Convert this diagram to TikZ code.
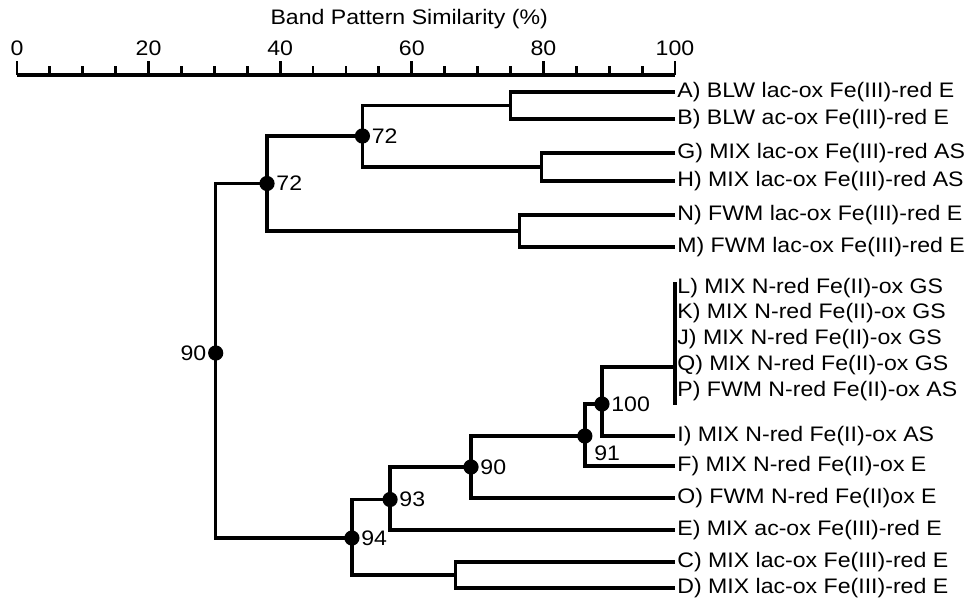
\documentclass[tikz,border=0pt]{standalone}
\usepackage{fontspec}
\setmainfont{Liberation Sans}[FakeStretch=1.1]

\tikzset{
    tree/.style={line width=1.7pt},
    leaf/.style={anchor=west, inner sep=1pt},
    boot/.style={inner sep=4.5pt}
}

\begin{document}
\begin{tikzpicture}[x=3.29pt, y=-0.5pt, font=\fontsize{10.5}{12}\selectfont]
    \useasboundingbox (-2.58, 0) rectangle (144.68, 598);
    % similarity axis
    \node (title) at (59.6, 19) {Band Pattern Similarity (\%)};
    \draw[line width=1.7pt]
        (0, 75) -- (100, 75);
    \draw[line width=1.4pt]
        \foreach \t in {0, 5, ..., 100} {
            (\t, 75) -- (\t, 66)
        }
        \foreach \t in {0, 20, ..., 100} {
            (\t, 75) -- (\t, 61)
        };
    \path
        \foreach \t in {0, 20, ..., 100} {
            (\t, 48) node (t\t) {\t}
        };
    % leaves
    \path
        \foreach \n/\y/\txt in {
            A/92/{A) BLW lac-ox Fe(III)-red E},
            B/119/{B) BLW ac-ox Fe(III)-red E},
            G/153/{G) MIX lac-ox Fe(III)-red AS},
            H/181/{H) MIX lac-ox Fe(III)-red AS},
            N/215/{N) FWM lac-ox Fe(III)-red E},
            M/247/{M) FWM lac-ox Fe(III)-red E},
            L/288/{L) MIX N-red Fe(II)-ox GS},
            K/313/{K) MIX N-red Fe(II)-ox GS},
            J/339/{J) MIX N-red Fe(II)-ox GS},
            Q/365/{Q) MIX N-red Fe(II)-ox GS},
            P/391/{P) FWM N-red Fe(II)-ox AS},
            I/436/{I) MIX N-red Fe(II)-ox AS},
            F/466/{F) MIX N-red Fe(II)-ox E},
            O/498/{O) FWM N-red Fe(II)ox E},
            E/530/{E) MIX ac-ox Fe(III)-red E},
            C/562/{C) MIX lac-ox Fe(III)-red E},
            D/588/{D) MIX lac-ox Fe(III)-red E}
        } {
            (100, \y) coordinate (\n) node[leaf] (l\n) {\txt}
        };
    % junctions
    \coordinate (ab) at (75.0, 105.5);
    \coordinate (gh) at (79.7, 167);
    \coordinate (nm) at (76.4, 231);
    \coordinate (k72a) at (52.5, 136);
    \coordinate (k72b) at (38.0, 183.5);
    \coordinate (lptop) at (100, 282);
    \coordinate (lpbot) at (100, 405);
    \coordinate (lp) at (100, 367);
    \coordinate (k100) at (88.9, 404);
    \coordinate (k91) at (86.3, 436);
    \coordinate (k90) at (69.0, 467);
    \coordinate (k93) at (56.7, 499.5);
    \coordinate (cd) at (66.6, 575);
    \coordinate (k94) at (50.9, 538);
    \coordinate (root) at (30.2, 353);
    \draw[tree]
        (A) -| (ab) |- (B)
        (G) -| (gh) |- (H)
        (ab) -| (k72a) |- (gh)
        (N) -| (nm) |- (M)
        (k72a) -| (k72b) |- (nm)
        (lptop) -- (lpbot)
        (lp) -| (k100) |- (I)
        (k100) -| (k91) |- (F)
        (k91) -| (k90) |- (O)
        (k90) -| (k93) |- (E)
        (C) -| (cd) |- (D)
        (k93) -| (k94) |- (cd)
        (k72b) -| (root) |- (k94);
    \fill[radius=3.8pt]
        \foreach \k in {k72a, k72b, root, k100, k91, k90, k93, k94} {
            (\k) circle[]
        };
    \path[boot]
        \foreach \k/\pos/\v in {
            k72a/right/72,
            k72b/right/72,
            root/left/90,
            k100/right/100,
            k91/below right/91,
            k90/right/90,
            k93/right/93,
            k94/right/94
        } {
            (\k) node[\pos] (v\k) {\v}
        };
\end{tikzpicture}
\end{document}
